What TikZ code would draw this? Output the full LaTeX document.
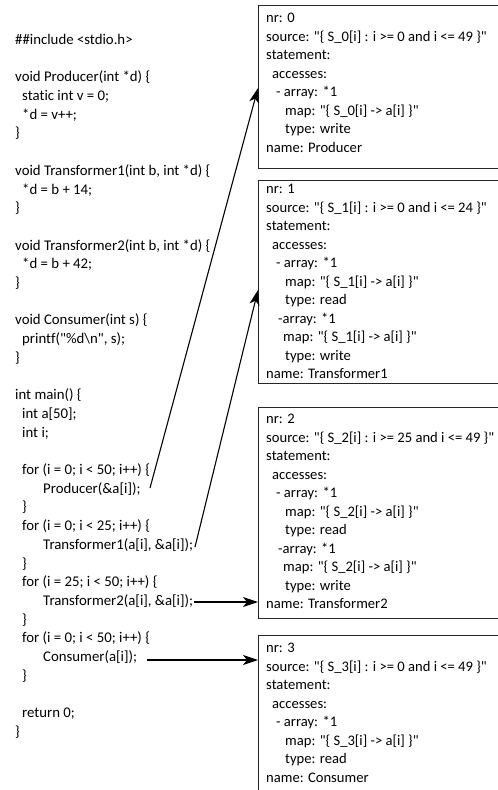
\documentclass[tikz,border=0pt]{standalone}
\usepackage{fontspec}
\setmainfont{Carlito}[Ligatures={TeXOff,NoCommon}]
\usetikzlibrary{arrows.meta}
\newcommand{\dq}{\char34\relax}
\begin{document}
\begin{tikzpicture}[x=1pt,y=-1pt,
  box/.style={draw=black!85, line width=1.3pt, anchor=north west, inner sep=0pt, minimum width=262pt},
  txt/.style={anchor=north west, align=left, inner sep=0pt, font=\fontsize{14.6}{18.5}\selectfont},
  code/.style={anchor=north west, align=left, inner sep=0pt, font=\fontsize{14.8}{18.7}\selectfont},
  link/.style={-{Stealth[length=15pt,width=10pt,inset=4pt]}, line width=1.1pt}]
\useasboundingbox (0,0) rectangle (498,790);
\clip (0,0) rectangle (498,790);
\fill[white] (0,0) rectangle (498,790);

% code listing
\node[code] (src) at (15,34) {%
\#\#include <stdio.h>\\
\mbox{}\\
void Producer(int *d) \{\\
\hspace*{7pt}static int v = 0;\\
\hspace*{7pt}*d = v++;\\
\}\\
\mbox{}\\
void Transformer1(int b, int *d) \{\\
\hspace*{7pt}*d = b + 14;\\
\}\\
\mbox{}\\
void Transformer2(int b, int *d) \{\\
\hspace*{7pt}*d = b + 42;\\
\}\\
\mbox{}\\
void Consumer(int s) \{\\
\hspace*{7pt}printf(\dq\%d\textbackslash n\dq, s);\\
\}\\
\mbox{}\\
int main() \{\\
\hspace*{7pt}int a[50];\\
\hspace*{7pt}int i;\\
\mbox{}\\
\hspace*{7pt}for (i = 0; i < 50; i++) \{\\
\hspace*{28pt}Producer(\&a[i]);\\
\hspace*{7pt}\}\\
\hspace*{7pt}for (i = 0; i < 25; i++) \{\\
\hspace*{28pt}Transformer1(a[i], \&a[i]);\\
\hspace*{7pt}\}\\
\hspace*{7pt}for (i = 25; i < 50; i++) \{\\
\hspace*{28pt}Transformer2(a[i], \&a[i]);\\
\hspace*{7pt}\}\\
\hspace*{7pt}for (i = 0; i < 50; i++) \{\\
\hspace*{28pt}Consumer(a[i]);\\
\hspace*{7pt}\}\\
\mbox{}\\
\hspace*{7pt}return 0;\\
\}};

% statement boxes
\node[box, minimum height=163pt] (b0) at (258,5) {};
\node[box, minimum height=203pt] (b1) at (258,180) {};
\node[box, minimum height=211pt] (b2) at (258,407) {};
\node[box, minimum height=180pt] (b3) at (258,635) {};

\node[txt] (t0) at (266,13) {%
nr: 0\\
source: \dq\{ S\_0[i] : i >= 0 and i <= 49 \}\dq\\
statement:\\
\hspace*{6pt}accesses:\\
\hspace*{10pt}- array: *1\\
\hspace*{19pt}map: \dq\{ S\_0[i] -> a[i] \}\dq\\
\hspace*{19pt}type: write\\
name: Producer};

\node[txt] (t1) at (266,184) {%
nr: 1\\
source: \dq\{ S\_1[i] : i >= 0 and i <= 24 \}\dq\\
statement:\\
\hspace*{6pt}accesses:\\
\hspace*{10pt}- array: *1\\
\hspace*{19pt}map: \dq\{ S\_1[i] -> a[i] \}\dq\\
\hspace*{19pt}type: read\\
\hspace*{12pt}-array: *1\\
\hspace*{17pt}map: \dq\{ S\_1[i] -> a[i] \}\dq\\
\hspace*{19pt}type: write\\
name: Transformer1};

\node[txt] (t2) at (266,414) {%
nr: 2\\
source: \dq\{ S\_2[i] : i >= 25 and i <= 49 \}\dq\\
statement:\\
\hspace*{6pt}accesses:\\
\hspace*{10pt}- array: *1\\
\hspace*{19pt}map: \dq\{ S\_2[i] -> a[i] \}\dq\\
\hspace*{19pt}type: read\\
\hspace*{12pt}-array: *1\\
\hspace*{17pt}map: \dq\{ S\_2[i] -> a[i] \}\dq\\
\hspace*{19pt}type: write\\
name: Transformer2};

\node[txt] (t3) at (266,643) {%
nr: 3\\
source: \dq\{ S\_3[i] : i >= 0 and i <= 49 \}\dq\\
statement:\\
\hspace*{6pt}accesses:\\
\hspace*{10pt}- array: *1\\
\hspace*{19pt}map: \dq\{ S\_3[i] -> a[i] \}\dq\\
\hspace*{19pt}type: read\\
name: Consumer};

% connector ends
\coordinate (s0) at (150,488);
\coordinate (s1) at (195,547);
\coordinate (s2) at (194,602);
\coordinate (s3) at (147,660);
\path (b0.north west) ++(0,83) coordinate (e0);
\path (b1.north west) ++(0,110) coordinate (e1);
\path (b2.north west) ++(0,195) coordinate (e2);
\path (b3.north west) ++(0,25) coordinate (e3);

\draw[link] (s0) -- (e0);
\draw[link] (s1) -- (e1);
\draw[link] (s2) -- (e2);
\draw[link] (s3) -- (e3);
\end{tikzpicture}
\end{document}
